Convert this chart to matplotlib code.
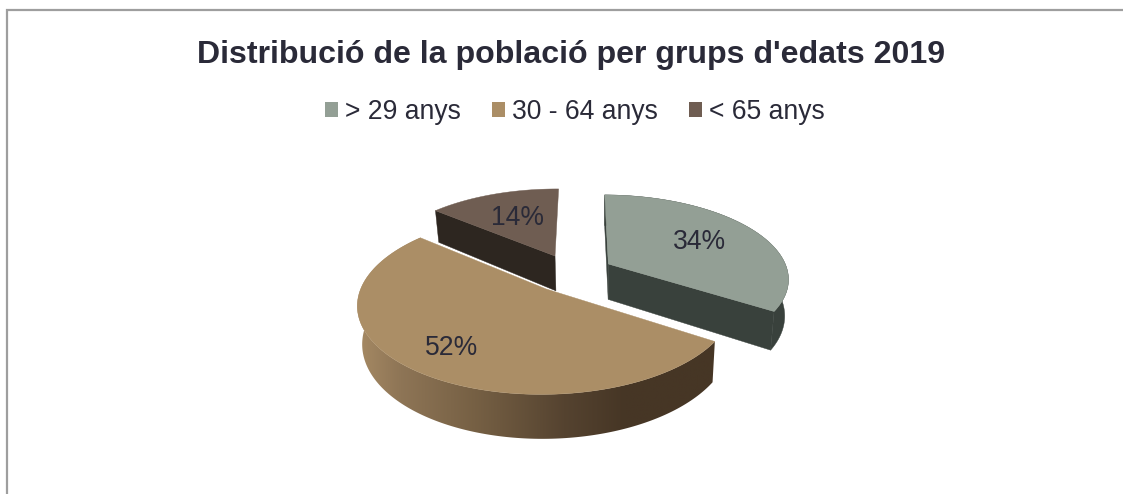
import numpy as np
import matplotlib
matplotlib.use("Agg")
import matplotlib.pyplot as plt
from matplotlib.patches import Polygon, Patch
from matplotlib.colors import LinearSegmentedColormap

plt.rcParams['font.family'] = ['Liberation Sans', 'DejaVu Sans']

title = "Distribució de la població per grups d'edats 2019"
categories = ["> 29 anys", "30 - 64 anys", "< 65 anys"]
values = [34, 52, 14]
labels = ["34%", "52%", "14%"]

face_colors = ["#939F95", "#AB8E66", "#6F5D52"]
wall_colors = ["#39413C", None, "#2D2620"]
text_color = "#2A2A38"
border_color = "#9E9E9E"

# projection layout (pixels)
CX, CY = 572.0, 273.0
RADIUS = 180.0
ROTATE = np.radians(0.5)
EXPLODE = 42.0
TILT = 0.46
PERSP = 0.16
DEPTH = 36.0
LABEL_FRAC = [0.62, 0.75, 0.58]

W, H = 1123, 494
fig = plt.figure(figsize=(W / 100, H / 100), dpi=100)
ax = fig.add_axes([0, 0, 1, 1])
ax.set_xlim(0, W)
ax.set_ylim(H, 0)
ax.axis("off")


def project(x, y, drop=0.0):
    s = 1.0 / (1.0 + PERSP * y / RADIUS)
    sx = CX + s * x
    sy = CY - TILT * s * y + drop * s
    if drop:
        sx = sx - 0.02 * (sx - 600.0)
    return np.column_stack([sx, sy])


def world(t, rad, mid):
    ox, oy = EXPLODE * np.sin(mid), EXPLODE * np.cos(mid)
    return ox + rad * np.sin(t), oy + rad * np.cos(t)


total = sum(values)
edges = np.radians(np.concatenate([[0], np.cumsum(values)]) / total * 360.0) + ROTATE

# gradient for the front wall of the large slice
grad_cmap = LinearSegmentedColormap.from_list("wall", [
    (0.00, "#A68A64"), (0.12, "#8E7556"), (0.33, "#766044"),
    (0.58, "#554330"), (0.75, "#463625"), (1.00, "#463625")])
grad = np.linspace(0, 1, 256)[None, :]

for i in [2, 0, 1]:
    a0, a1 = edges[i], edges[i + 1]
    mid = (a0 + a1) / 2
    t = np.linspace(a0, a1, 200)
    rx, ry = world(t, RADIUS, mid)
    cx0, cy0 = world(0.0, 0.0, mid)
    top_rim = project(rx, ry)
    bot_rim = project(rx, ry, DEPTH)
    apex_top = project(np.array([cx0]), np.array([cy0]))
    apex_bot = project(np.array([cx0]), np.array([cy0]), DEPTH)

    if i == 1:
        front = np.vstack([top_rim, bot_rim[::-1]])
        poly = Polygon(front, closed=True, fc="none", ec="none", transform=ax.transData)
        ax.add_patch(poly)
        x_min, x_max = front[:, 0].min(), front[:, 0].max()
        im = ax.imshow(grad, cmap=grad_cmap, aspect="auto", zorder=2,
                       extent=[x_min, x_max, front[:, 1].max() + 2, front[:, 1].min() - 2])
        im.set_clip_path(poly)
        ax.set_xlim(0, W)
        ax.set_ylim(H, 0)
    else:
        wall = wall_colors[i]
        if i == 0:
            # rim wall and both cut walls are in view
            ax.add_patch(Polygon(np.vstack([top_rim, bot_rim[::-1]]), closed=True,
                                 fc=wall, ec=wall, lw=0.3, zorder=2))
            cuts = (0, -1)
        else:
            # only the cut wall facing the viewer
            cuts = (0,)
        for k in cuts:
            quad = np.vstack([apex_top, top_rim[k], bot_rim[k], apex_bot])
            ax.add_patch(Polygon(quad, closed=True, fc=wall, ec=wall, lw=0.3, zorder=2))

    ax.add_patch(Polygon(np.vstack([apex_top, top_rim]), closed=True,
                         fc=face_colors[i], ec=face_colors[i], lw=0.3, zorder=3))

    lx, ly = world(np.array([mid]), LABEL_FRAC[i] * RADIUS, mid)
    p = project(lx, ly)[0]
    ax.text(p[0], p[1], labels[i], fontsize=19.1, color=text_color,
            ha="center", va="center", zorder=5)

# title and legend
ax.text(571, 55, title, fontsize=23.1, fontweight="bold", color=text_color,
        ha="center", va="center")
handles = [Patch(fc=c, ec="none", label=n) for c, n in zip(face_colors, categories)]
leg = ax.legend(handles=handles, loc="center", bbox_to_anchor=(575 / W, 1 - 112 / H),
                bbox_transform=fig.transFigure, ncol=3, frameon=False, fontsize=19.1,
                handlelength=0.5, handleheight=0.5, handletextpad=0.26,
                columnspacing=1.17, labelcolor=text_color, borderpad=0, borderaxespad=0)

# chart frame: left and top edges only
ax.plot([6.8, 6.8, W], [H, 10.3, 10.3], color=border_color, lw=1.6,
        solid_joinstyle="miter", clip_on=True, zorder=1)

fig.savefig("out.png", dpi=100, facecolor="white")
